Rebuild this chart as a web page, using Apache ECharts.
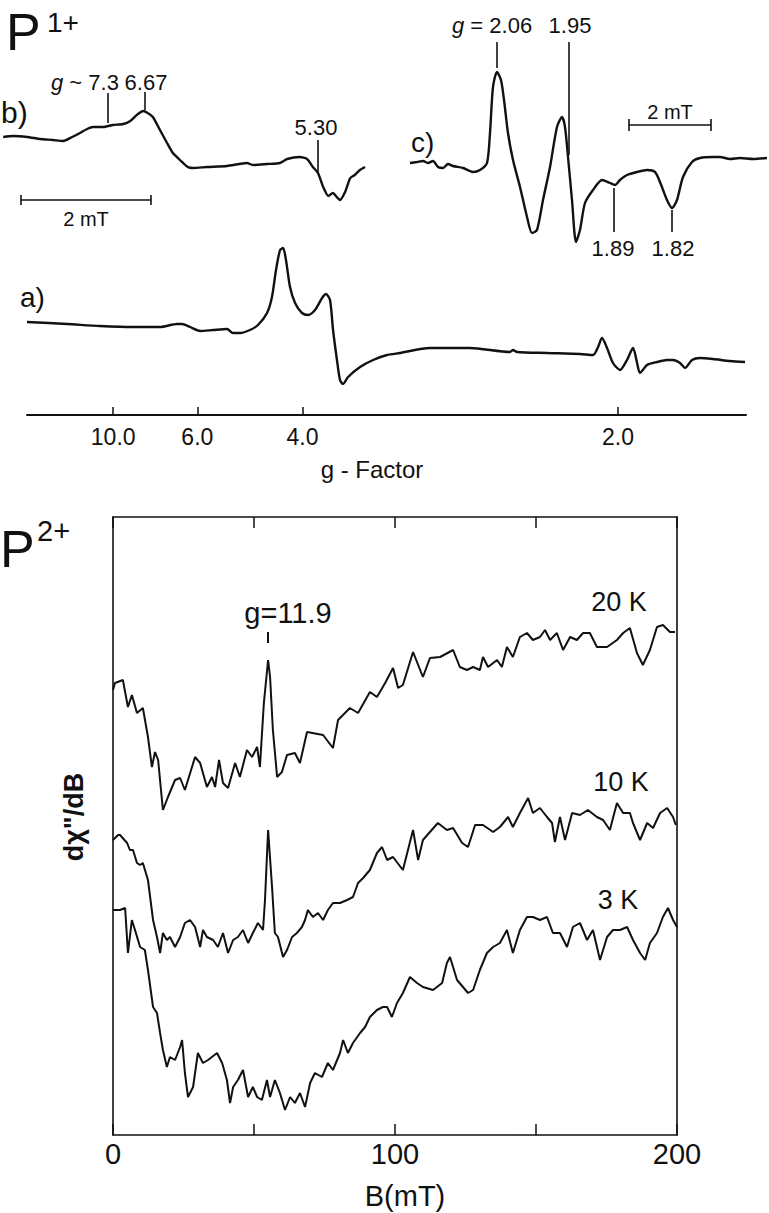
<!DOCTYPE html>
<html>
<head>
<meta charset="utf-8">
<script src="https://cdn.jsdelivr.net/npm/echarts@6/dist/echarts.min.js"></script>
<style>
html,body{margin:0;padding:0;background:#fff;}
#chart{width:769px;height:1213px;}
</style>
</head>
<body>
<div id="chart"></div>
<script>
// ---------- DATA ----------
// P1+ a): [field (a.u., 1000/g scale), signal (a.u.)]
const gTickLabels = [10.0, 6.0, 4.0, 2.0];
const traceA = [
 [31.7,18],[63.4,16],[89.5,14],[115.7,13],[137.1,13],[150.6,16],[154.5,16],[160.9,13],[168.8,9],
 [179.1,10],[190.2,11],[194.9,7],[200.5,7],[208.4,10],[214.7,15],[221.9,27],[225.8,43],[229.0,70],
 [232.2,90],[234.6,92],[236.9,80],[240.1,53],[244.1,37],[249.6,27],[254.4,25],[259.9,30],[265.5,42],
 [268.6,46],[271.8,40],[274.2,10],[277.3,-20],[279.7,-40],[282.1,-44],[286.1,-37],[295.6,-27],
 [305.9,-20],[317.0,-15],[327.3,-13],[351.0,-8],[382.7,-8],[414.4,-12],[416.8,-10],[420.0,-12],
 [443.7,-13],[469.9,-14],[480.2,-15],[484.2,-7],[487.3,2],[491.3,-8],[496.0,-23],[501.6,-30],
 [507.1,-20],[511.9,-8],[515.1,-23],[517.4,-33],[523.0,-25],[530.9,-22],[538.8,-20],[543.6,-20],
 [549.1,-23],[553.1,-28],[558.6,-20],[565.0,-18],[575.3,-19],[588.8,-21],[600.6,-22]
];
// P1+ b): [field (mT), signal]
const traceB = [
 [0.05,33],[0.20,34],[0.42,33],[0.62,31],[0.82,30],[0.98,29],[1.12,33],[1.24,37],[1.35,41],[1.44,43],
 [1.60,43],[1.75,45],[1.91,46],[2.02,49],[2.12,55],[2.22,59],[2.29,57],[2.37,53],[2.48,40],[2.59,27],
 [2.68,17],[2.79,10],[2.91,3],[2.99,2],[3.21,3],[3.52,4],[3.83,7],[3.92,5],[4.14,6],[4.34,7],[4.45,11],
 [4.65,13],[4.76,11],[4.85,3],[4.93,-3],[5.01,-17],[5.09,-26],[5.16,-23],[5.22,-27],[5.27,-30],
 [5.35,-22],[5.43,-8],[5.50,-5],[5.58,0],[5.66,3]
];
// P1+ c): [field (mT), signal]
const traceC = [
 [0.244,7],[0.415,8],[0.561,9],[0.683,7],[0.805,9],[0.927,3],[1.049,2],[1.171,6],[1.293,4],[1.537,2],
 [1.780,-2],[1.951,0],[2.122,7],[2.195,37],[2.268,83],[2.366,98],[2.463,90],[2.537,70],[2.634,37],
 [2.756,10],[2.927,-17],[3.098,-47],[3.220,-63],[3.341,-60],[3.488,-30],[3.659,3],[3.829,43],
 [3.951,53],[4.024,43],[4.098,13],[4.195,-30],[4.293,-72],[4.390,-60],[4.512,-33],[4.707,-20],
 [4.927,-10],[5.122,-13],[5.244,-15],[5.366,-10],[5.537,-5],[5.780,-2],[6.024,0],[6.220,-2],
 [6.341,-12],[6.512,-30],[6.634,-38],[6.756,-30],[6.902,-7],[7.122,8],[7.317,12],[7.634,13],
 [7.805,13],[8.049,11],[8.293,12],[8.610,11],[8.951,12]
];
// P2+: [B (mT), dchi''/dB (a.u.)]
const trace20K = [
 [0.0,445],[0.7,452],[3.5,455],[5.3,428],[6.7,440],[8.5,422],[10.6,427],[12.4,398],[13.8,368],[14.9,383],
 [16.0,375],[17.7,325],[19.5,338],[22.0,355],[23.8,357],[25.5,345],[29.1,378],[30.9,372],[33.3,348],
 [35.1,358],[36.2,348],[37.6,375],[39.0,352],[40.8,347],[43.3,372],[45.0,358],[47.5,385],[49.3,378],
 [51.1,388],[52.1,368],[53.5,432],[55.0,475],[55.7,458],[56.7,405],[58.2,358],[59.9,363],[61.7,380],
 [64.5,382],[66.3,372],[68.8,403],[74.5,400],[78.0,387],[79.8,415],[84.0,427],[86.9,422],[91.1,443],
 [93.6,438],[96.5,452],[99.3,467],[101.1,447],[102.8,450],[106.4,483],[109.9,458],[112.4,477],
 [116.0,478],[120.6,485],[123.0,468],[125.5,465],[127.7,468],[130.1,465],[131.2,478],[133.0,468],
 [136.2,475],[137.9,468],[139.7,488],[141.8,478],[144.3,498],[146.8,502],[148.9,495],[151.4,498],
 [153.2,505],[155.0,495],[157.4,502],[159.6,485],[162.1,498],[164.5,495],[166.7,502],[169.1,502],
 [171.6,488],[175.2,488],[178.7,495],[180.9,502],[183.3,507],[185.8,482],[187.9,470],[190.4,485],
 [192.9,508],[195.0,510],[197.5,503],[199.3,503]
];
const trace10K = [
 [0.0,295],[1.8,300],[2.5,300],[5.0,292],[6.0,285],[7.1,285],[8.5,272],[9.6,270],[10.6,272],[12.4,255],
 [14.2,215],[15.6,198],[16.7,182],[17.7,202],[19.1,195],[20.2,198],[22.0,188],[23.8,198],[25.5,212],
 [27.3,215],[29.1,208],[30.9,188],[31.9,205],[33.3,198],[35.5,195],[37.2,188],[39.0,202],[40.8,182],
 [42.6,195],[44.3,198],[46.1,205],[47.9,192],[49.6,202],[51.4,212],[53.2,205],[53.9,235],[55.0,305],
 [56.4,248],[57.4,202],[58.5,198],[60.3,178],[61.7,185],[63.5,198],[65.2,202],[67.0,208],[68.1,215],
 [69.1,225],[70.9,218],[72.7,222],[74.5,215],[76.2,225],[78.0,232],[80.5,232],[83.0,235],[85.1,238],
 [86.9,252],[88.7,257],[91.1,265],[93.6,282],[95.4,288],[97.2,275],[99.3,278],[102.8,265],[106.4,305],
 [108.2,275],[109.9,295],[115.2,312],[118.4,305],[120.6,307],[123.8,292],[125.9,288],[128.4,310],
 [131.2,310],[134.8,303],[137.2,308],[140.1,318],[141.8,308],[144.3,322],[147.2,337],[148.9,322],
 [151.4,327],[153.9,318],[155.7,312],[156.7,293],[158.5,318],[160.3,295],[162.8,322],[165.6,320],
 [168.4,325],[171.6,318],[173.8,315],[176.2,305],[178.7,332],[180.9,322],[183.3,322],[184.4,312],
 [186.9,295],[189.4,312],[191.5,307],[194.0,322],[196.5,327],[198.6,318],[199.6,310]
];
const trace3K = [
 [0.0,225],[2.5,225],[4.3,227],[5.3,182],[6.7,215],[7.8,205],[9.6,188],[11.3,185],[12.4,165],[14.2,128],
 [15.6,122],[16.7,102],[17.7,85],[19.1,68],[20.2,78],[22.0,75],[23.8,88],[24.5,95],[25.5,62],[26.6,38],
 [28.4,48],[30.1,82],[31.9,72],[33.7,75],[36.9,82],[38.7,72],[40.4,55],[41.5,32],[42.6,48],[44.3,55],
 [46.1,65],[47.9,38],[49.6,48],[51.1,38],[52.8,35],[54.6,55],[55.7,38],[57.4,55],[59.2,42],[61.0,25],
 [62.8,38],[64.5,32],[66.3,42],[68.1,28],[69.9,52],[71.6,62],[74.1,58],[76.2,72],[78.0,65],[80.5,82],
 [81.6,95],[83.3,82],[85.1,92],[87.6,102],[89.4,108],[91.1,118],[93.6,125],[95.7,128],[97.2,128],
 [98.9,118],[100.7,132],[102.8,142],[105.3,158],[107.8,152],[109.9,148],[113.5,145],[116.7,152],
 [118.4,172],[119.5,178],[122.0,155],[124.1,148],[125.9,142],[127.7,145],[130.1,165],[132.6,182],
 [134.8,188],[137.2,192],[139.7,205],[141.8,182],[144.3,205],[146.8,218],[148.9,218],[151.4,215],
 [153.9,218],[156.0,202],[158.5,202],[161.0,188],[163.1,208],[165.6,212],[168.1,195],[170.2,205],
 [172.7,175],[175.2,198],[177.3,205],[179.8,205],[182.3,208],[184.4,195],[186.9,182],[188.7,175],
 [190.4,192],[192.9,202],[195.0,218],[196.8,227],[198.6,215],[200.0,208]
];
// annotation marker lines: [x, yFrom, yTo] in each panel's data units
const markersB = [[1.674,77,47],[2.248,78,60],[4.930,30,-3]];
const markersC = [[2.366,128,102],[4.122,128,15],[5.220,-18,-62],[6.634,-40,-62]];
const marker20K = [[55.0,503,492]];
// scale bars: [xStart, xEnd, y, capHalf] (2 mT)
const scaleB = [0.326,2.341,-30,5];
const scaleC = [5.585,7.585,45,6];

// ---------- STYLE / LAYOUT ----------
const FONT = "'Liberation Sans', Arial, Helvetica, sans-serif";
const INK = '#111';
function vlines(arr){ return arr.map(m => [{coord:[m[0],m[1]]},{coord:[m[0],m[2]]}]); }
function bar(s){
  return [
    [{coord:[s[0],s[2]]},{coord:[s[1],s[2]]}],
    [{coord:[s[0],s[2]-s[3]]},{coord:[s[0],s[2]+s[3]]}],
    [{coord:[s[1],s[2]-s[3]]},{coord:[s[1],s[2]+s[3]]}]
  ];
}
function ml(data, w){
  return {silent:true, symbol:['none','none'], animation:false,
    label:{show:false}, emphasis:{disabled:true},
    lineStyle:{color:INK, width:w||1.5, type:'solid'}, data:data};
}
function txt(text, x, y, size, align, extra){
  return {type:'text', x:x, y:y, silent:true,
    style:Object.assign({text:text, fill:INK, fontSize:size, fontFamily:FONT,
      align:align||'center', verticalAlign:'middle'}, extra||{})};
}
function gtxt(rest, x, y, size){
  return {type:'text', x:x, y:y, silent:true,
    style:{text:'{i|g}'+rest, fill:INK, fontSize:size, fontFamily:FONT, align:'left', verticalAlign:'middle',
      rich:{i:{fontStyle:'italic', fontSize:size, fontFamily:FONT, fill:INK}}}};
}

const gTickPos = gTickLabels.map(g => 1000/g);
const frameLine = {show:true, lineStyle:{color:INK, width:1.6}};

const option = {
  backgroundColor:'#fff',
  animation:false,
  grid:[
    {left:27, top:230, width:719, height:185},
    {left:0, top:60, width:370, height:150},
    {left:400, top:20, width:369, height:240},
    {left:113, top:517, width:564, height:618}
  ],
  xAxis:[
    {gridIndex:0, type:'value', min:31.7, max:601.4, splitLine:{show:false},
     axisLine:{show:true, onZero:false, lineStyle:{color:INK, width:2}},
     axisTick:{show:true, inside:true, length:8, customValues:gTickPos, lineStyle:{color:INK, width:1.5}},
     axisLabel:{show:true, customValues:gTickPos, formatter:v => (1000/v).toFixed(1),
       fontSize:23, fontFamily:FONT, color:INK, margin:10}},
    {gridIndex:1, type:'value', min:0, max:5.736, show:false},
    {gridIndex:2, type:'value', min:0, max:9.0, show:false},
    {gridIndex:3, type:'value', min:0, max:200, interval:50, position:'bottom', splitLine:{show:false},
     axisLine:Object.assign({onZero:false}, frameLine),
     axisTick:{show:true, inside:true, length:11, lineStyle:{color:INK, width:1.5}},
     axisLabel:{formatter:v => (v % 100 === 0 ? String(v) : ''), fontSize:29, fontFamily:FONT, color:INK, margin:4}},
    {gridIndex:3, type:'value', min:0, max:200, interval:50, position:'top', splitLine:{show:false},
     axisLine:Object.assign({onZero:false}, frameLine),
     axisTick:{show:true, inside:true, length:11, lineStyle:{color:INK, width:1.5}},
     axisLabel:{show:false}}
  ],
  yAxis:[
    {gridIndex:0, type:'value', min:-75, max:110, show:false},
    {gridIndex:1, type:'value', min:-40, max:110, show:false},
    {gridIndex:2, type:'value', min:-90, max:150, show:false},
    {gridIndex:3, type:'value', min:0, max:618, position:'left', splitLine:{show:false},
     axisLine:Object.assign({onZero:false}, frameLine), axisTick:{show:false}, axisLabel:{show:false}},
    {gridIndex:3, type:'value', min:0, max:618, position:'right', splitLine:{show:false},
     axisLine:Object.assign({onZero:false}, frameLine), axisTick:{show:false}, axisLabel:{show:false}}
  ],
  series:[
    {type:'line', name:'a', xAxisIndex:0, yAxisIndex:0, data:traceA, showSymbol:false, smooth:0.25,
     lineStyle:{color:INK, width:2.4}},
    {type:'line', name:'b', xAxisIndex:1, yAxisIndex:1, data:traceB, showSymbol:false, smooth:0.2,
     lineStyle:{color:INK, width:2.4}, markLine:ml(vlines(markersB).concat(bar(scaleB)), 1.6)},
    {type:'line', name:'c', xAxisIndex:2, yAxisIndex:2, data:traceC, showSymbol:false, smooth:0.25,
     lineStyle:{color:INK, width:2.4}, markLine:ml(vlines(markersC).concat(bar(scaleC)), 1.6)},
    {type:'line', name:'20 K', xAxisIndex:3, yAxisIndex:3, data:trace20K, showSymbol:false,
     lineStyle:{color:INK, width:2}, markLine:ml(vlines(marker20K), 2)},
    {type:'line', name:'10 K', xAxisIndex:3, yAxisIndex:3, data:trace10K, showSymbol:false,
     lineStyle:{color:INK, width:2}},
    {type:'line', name:'3 K', xAxisIndex:3, yAxisIndex:3, data:trace3K, showSymbol:false,
     lineStyle:{color:INK, width:2}}
  ],
  graphic:[
    txt('P', 6, 32, 52, 'left'),
    txt('1+', 47, 22, 28, 'left'),
    txt('P', 0, 549, 52, 'left'),
    txt('2+', 37, 531, 29, 'left'),
    txt('a)', 20, 297, 28, 'left'),
    txt('b)', 1, 112, 30, 'left'),
    txt('c)', 411, 142, 28, 'left'),
    gtxt(' ~ 7.3', 51, 82, 22),
    txt('6.67', 146, 82, 22),
    txt('5.30', 316, 127, 22),
    txt('2 mT', 86, 219, 20),
    gtxt(' = 2.06', 452, 25, 22),
    txt('1.95', 570, 25, 22),
    txt('1.89', 613, 248, 22),
    txt('1.82', 673, 248, 22),
    txt('2 mT', 670, 112, 20),
    txt('g - Factor', 372, 469, 24),
    txt('g=11.9', 288, 613, 29),
    txt('20 K', 619, 602, 27),
    txt('10 K', 621, 782, 27),
    txt('3 K', 618, 900, 27),
    txt('B(mT)', 405, 1196, 29),
    {type:'text', x:74, y:817, rotation:Math.PI/2, silent:true,
     style:{text:'dχ"/dB', fill:INK, fontSize:27, fontWeight:'bold', fontFamily:FONT, align:'center', verticalAlign:'middle'}}
  ]
};
const chart = echarts.init(document.getElementById('chart'), null, {renderer:'svg', width:769, height:1213});
chart.setOption(option);
</script>
</body>
</html>
